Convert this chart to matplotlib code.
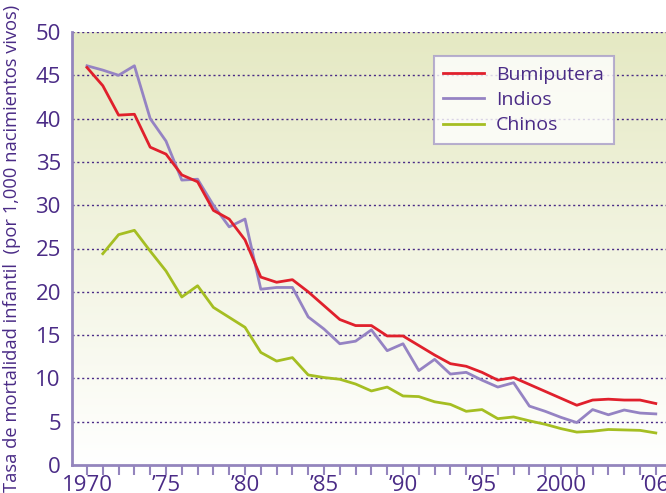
import numpy as np
import matplotlib
matplotlib.use("Agg")
from matplotlib import pyplot as plt

# Datos
anios = list(range(1970, 2007))
bumiputera = [45.9, 43.8, 40.4, 40.5, 36.7, 35.9, 33.5, 32.7, 29.4, 28.4,
              26.0, 21.7, 21.1, 21.4, 20.0, 18.4, 16.8, 16.1, 16.1, 14.9,
              14.9, 13.8, 12.7, 11.7, 11.4, 10.7, 9.8, 10.1, 9.3, 8.5,
              7.7, 6.9, 7.5, 7.6, 7.5, 7.5, 7.1]
indios = [46.1, 45.6, 45.0, 46.1, 40.0, 37.4, 32.9, 33.0, 30.0, 27.5,
          28.4, 20.3, 20.5, 20.5, 17.1, 15.7, 14.0, 14.3, 15.6, 13.2,
          14.0, 10.9, 12.2, 10.5, 10.7, 9.8, 9.0, 9.5, 6.8, 6.2,
          5.5, 4.9, 6.4, 5.8, 6.35, 6.0, 5.9]
anios_chinos = list(range(1971, 2007))
chinos = [24.4, 26.6, 27.1, 24.7, 22.4, 19.4, 20.7, 18.2, 17.05, 15.9,
          13.0, 12.0, 12.4, 10.4, 10.1, 9.9, 9.35, 8.55, 9.0, 7.97,
          7.9, 7.3, 7.0, 6.2, 6.4, 5.35, 5.55, 5.1, 4.7, 4.2,
          3.8, 3.9, 4.1, 4.05, 4.0, 3.7]
ticks_x = [1970, 1975, 1980, 1985, 1990, 1995, 2000, 2006]
etiquetas_x = ["1970", "\u201975", "\u201980", "\u201985", "\u201990", "\u201995", "2000", "\u201906"]

morado = "#4a2b86"
morado_claro = "#9485bd"

plt.rcParams['font.family'] = ['Open Sans', 'DejaVu Sans']

fig = plt.figure(figsize=(6.66, 4.93), dpi=100)
ax = fig.add_axes([72/666, 28/493, 594/666, 433/493])

# Fondo degradado
grad = np.linspace(0, 1, 256).reshape(-1, 1)
arriba = np.array([229, 233, 195]) / 255
abajo = np.array([255, 255, 255]) / 255
img = abajo + (arriba - abajo) * grad[:, :, None] * np.ones((1, 1, 3))
ax.imshow(img, extent=[0, 1, 0, 1], transform=ax.transAxes, origin="lower",
          aspect="auto", zorder=0)

ax.plot(anios, bumiputera, color="#e0202c", lw=2, label="Bumiputera", zorder=3)
ax.plot(anios, indios, color="#9583c3", lw=2, label="Indios", zorder=2)
ax.plot(anios_chinos, chinos, color="#a5be22", lw=2, label="Chinos", zorder=2)

ax.set_xlim(1970 - 15/15.8, 1970 + 579/15.8)
ax.set_ylim(0, 50)

# Rejilla punteada
for v in range(5, 51, 5):
    ax.axhline(v, color=morado, lw=1, linestyle=(0, (1.5, 2)), zorder=1)

ax.set_yticks(range(0, 51, 5))
ax.set_xticks(anios, minor=True)
ax.set_xticks(ticks_x)
ax.set_xticklabels(etiquetas_x)
ax.tick_params(axis="y", length=0, labelsize=16, labelcolor=morado, pad=8)
ax.tick_params(axis="x", which="both", length=7, width=1.5, color=morado_claro,
               labelsize=16, labelcolor=morado, pad=0.5)

for s in ["top", "right"]:
    ax.spines[s].set_visible(False)
for s in ["left", "bottom"]:
    ax.spines[s].set_color(morado_claro)
    ax.spines[s].set_linewidth(2)

fig.text(0.018, 0.497, "Tasa de mortalidad infantil  (por 1,000 nacimientos vivos)",
         rotation=90, ha="center", va="center", fontsize=13.2, color=morado)

leg = ax.legend(loc="upper left", bbox_to_anchor=(0.609, 0.945), fontsize=14,
                frameon=True, fancybox=False, handlelength=2.1, borderpad=0.5,
                labelspacing=0.38, handletextpad=0.6, borderaxespad=0)
leg.get_frame().set_edgecolor("#a89cc9")
leg.get_frame().set_linewidth(1.5)
for t in leg.get_texts():
    t.set_color(morado)

plt.savefig("out.png", dpi=100)
